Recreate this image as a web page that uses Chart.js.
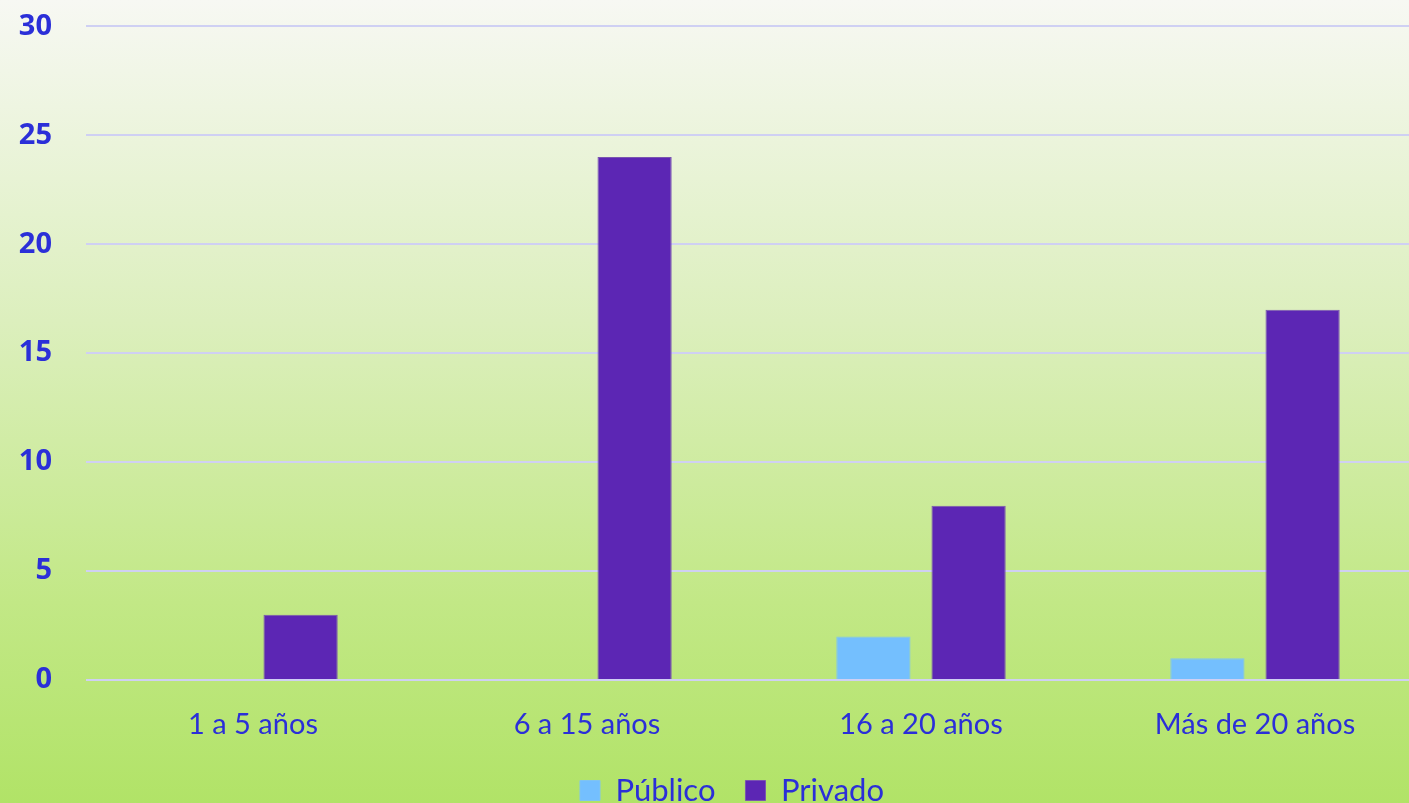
<!DOCTYPE html>
<html>
<head>
<meta charset="utf-8">
<script src="https://cdn.jsdelivr.net/npm/chart.js@4.4.0/dist/chart.umd.min.js"></script>
<style>
    html, body {
        margin: 0;
        padding: 0;
        overflow: hidden;
        width: 1409px;
        height: 803px;
        background: linear-gradient(to bottom, #f7f8f3 0%, #dcefbd 40%, #c2e886 75%, #b1e367 100%);
    }
    #wrap {
        position: relative;
        top: -25px;
        width: 1422px;
        height: 841px;
    }
</style>
</head>
<body>
<div id="wrap"><canvas id="grafico"></canvas></div>
<script>
// Dados do gráfico
const categorias = ['1 a 5 años', '6 a 15 años', '16 a 20 años', 'Más de 20 años'];
const publico = [0, 0, 2, 1];
const privado = [3, 24, 8, 17];
const ticksY = [0, 5, 10, 15, 20, 25, 30];

const azulTexto = '#2b2fd8';
const corGrade = '#cfd0f3';

document.addEventListener('DOMContentLoaded', function() {
    criarGrafico();
});

// Desloca a legenda um pouco para a direita
const deslocarLegenda = {
    id: 'deslocarLegenda',
    afterLayout(chart) {
        if (chart.legend) {
            chart.legend.left += 21;
            chart.legend.right += 21;
        }
    }
};

function criarGrafico() {
    const ctx = document.getElementById('grafico');

    new Chart(ctx, {
        type: 'bar',
        data: {
            labels: categorias,
            datasets: [
                {
                    label: 'Público',
                    data: publico,
                    backgroundColor: '#74bffe',
                    borderColor: '#80c4f0',
                    borderWidth: 1,
                    categoryPercentage: 0.57,
                    barPercentage: 0.78
                },
                {
                    label: 'Privado',
                    data: privado,
                    backgroundColor: '#5c26b4',
                    borderColor: '#7a55b0',
                    borderWidth: 1,
                    categoryPercentage: 0.57,
                    barPercentage: 0.78
                }
            ]
        },
        options: {
            responsive: true,
            maintainAspectRatio: false,
            animation: false,
            scales: {
                y: {
                    min: 0,
                    max: 30,
                    afterBuildTicks: function(axis) {
                        axis.ticks = ticksY.map(v => ({ value: v }));
                    },
                    afterFit: function(axis) {
                        axis.width = 86;
                    },
                    border: { display: false },
                    grid: {
                        color: corGrade,
                        lineWidth: 2,
                        drawTicks: false
                    },
                    ticks: {
                        color: azulTexto,
                        padding: 34,
                        font: { family: 'Open Sans', size: 29, weight: 'bold' }
                    }
                },
                x: {
                    afterFit: function(axis) {
                        axis.height = 65;
                    },
                    border: { display: false },
                    grid: { display: false, drawTicks: false },
                    ticks: {
                        color: azulTexto,
                        padding: 27,
                        font: { family: 'Lato', size: 29 }
                    }
                }
            },
            plugins: {
                legend: {
                    position: 'bottom',
                    labels: {
                        color: azulTexto,
                        boxWidth: 20,
                        boxHeight: 20,
                        padding: 30,
                        font: { family: 'Lato', size: 31 }
                    }
                },
                tooltip: { enabled: false }
            }
        },
        plugins: [deslocarLegenda]
    });
}
</script>
</body>
</html>
